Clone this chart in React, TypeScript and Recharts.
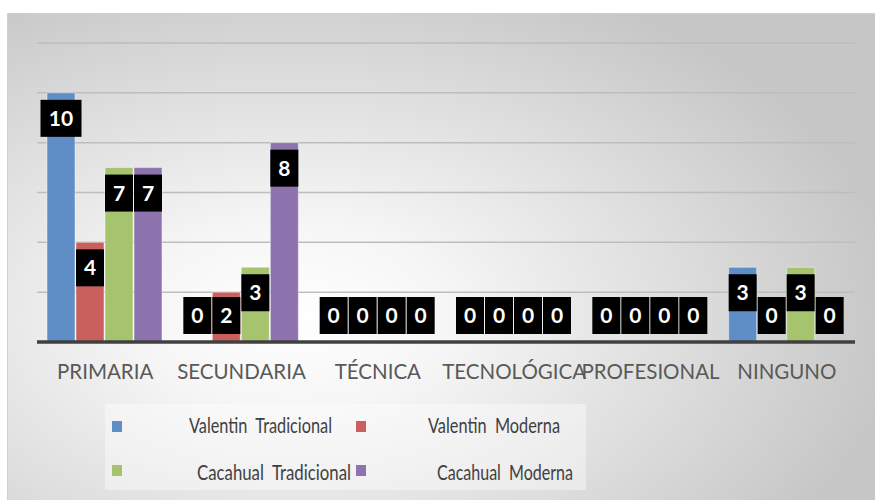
import React from "react";
import { BarChart, Bar, XAxis, YAxis, CartesianGrid, Legend, LabelList } from "recharts";

const categories = ["PRIMARIA", "SECUNDARIA", "TÉCNICA", "TECNOLÓGICA", "PROFESIONAL", "NINGUNO"];
const valentinTradicional = [10, 0, 0, 0, 0, 3];
const valentinModerna = [4, 2, 0, 0, 0, 0];
const cacahualTradicional = [7, 3, 0, 0, 0, 3];
const cacahualModerna = [7, 8, 0, 0, 0, 0];
const yTicks = [0, 2, 4, 6, 8, 10, 12];

const seriesNames = ["Valentin  Tradicional", "Valentin  Moderna", "Cacahual  Tradicional", "Cacahual  Moderna"];
const seriesKeys = ["vt", "vm", "ct", "cm"];
const seriesColors = ["#5f8dc6", "#c9605d", "#a6c36e", "#8e74ae"];

const data = categories.map((c, i) => ({
  name: c,
  vt: valentinTradicional[i],
  vm: valentinModerna[i],
  ct: cacahualTradicional[i],
  cm: cacahualModerna[i],
}));

const FONT = "Lato, 'Open Sans', sans-serif";

// legend layout (relative to legend box)
const legendLayout = [
  { mx: 7, my: 17, tx: 84, tw: 143, ty: 29 },
  { mx: 251, my: 17, tx: 323, tw: 132, ty: 29 },
  { mx: 7, my: 61, tx: 92, tw: 154, ty: 76 },
  { mx: 251, my: 61, tx: 332, tw: 136, ty: 76 },
];

const ValueLabel = (props: any) => {
  const vb = props.viewBox || {};
  const x = props.x ?? vb.x;
  const y = props.y ?? vb.y;
  const width = props.width ?? vb.width;
  const height = props.height ?? vb.height;
  const value = props.value;
  if (x == null || y == null) return null;
  const axisY = y + height;
  const str = String(value);
  const boxH = 37;
  const w = Math.max(width, str.length * 14 + 13);
  const top = Math.min(y + 7, axisY - 8 - boxH);
  const cx = x + width / 2;
  return (
    <g>
      <rect x={cx - w / 2} y={top} width={w} height={boxH} fill="#000" />
      <text
        x={cx}
        y={top + boxH / 2 + 7.5}
        textAnchor="middle"
        fill="#fff"
        fontWeight="bold"
        fontSize={21}
        fontFamily={FONT}
      >
        {str}
      </text>
    </g>
  );
};

const XTick = (props: any) => {
  const { x, payload } = props;
  return (
    <text x={x} y={379} textAnchor="middle" fill="#595959" fontSize={20.5} fontFamily={FONT}>
      {payload.value}
    </text>
  );
};

const LegendContent = () => (
  <svg width={640} height={86} style={{ display: "block", overflow: "visible" }}>
    <rect x={0} y={0} width={481} height={86} fill="rgba(255,255,255,0.4)" />
    {seriesNames.map((n, i) => {
      const l = legendLayout[i];
      return (
        <g key={n}>
          <rect x={l.mx} y={l.my} width={10} height={11} fill={seriesColors[i]} />
          <text
            x={l.tx}
            y={l.ty}
            textLength={l.tw}
            lengthAdjust="spacingAndGlyphs"
            fill="#404040"
            fontSize={21}
            fontFamily={FONT}
            style={{ whiteSpace: "pre" }}
          >
            {n}
          </text>
        </g>
      );
    })}
  </svg>
);

export default function App() {
  return (
    <div style={{ position: "absolute", left: 0, top: 0, width: 875, height: 500, overflow: "hidden" }}>
      <div
        style={{
          position: "absolute",
          left: 7,
          top: 13,
          width: 868,
          height: 487,
          borderTop: "1px solid #d0d0d0",
          borderLeft: "1px solid #d0d0d0",
          background:
            "radial-gradient(ellipse 70% 75% at 33% 62%, #ffffff 0%, #f6f6f6 25%, #e0e0e0 60%, #c6c6c6 100%)",
        }}
      />
      <div style={{ position: "absolute", left: 0, top: 0 }}>
        <BarChart
          width={875}
          height={500}
          data={data}
          margin={{ top: 43, left: 37, right: 20, bottom: 118 }}
          barCategoryGap={10}
          barGap={1}
        >
          <CartesianGrid vertical={false} stroke="#bdbdbd" strokeWidth={1.5} />
          <YAxis hide domain={[0, 12]} ticks={yTicks} />
          <XAxis
            dataKey="name"
            height={40}
            interval={0}
            tickLine={false}
            axisLine={{ stroke: "#404040", strokeWidth: 3.5 }}
            tick={<XTick />}
          />
          <Legend
            layout="horizontal"
            verticalAlign="middle"
            align="center"
            content={<LegendContent />}
            wrapperStyle={{ position: "absolute", left: 105, top: 404, width: 640, height: 86 }}
          />
          {seriesKeys.map((k, i) => (
            <Bar
              key={k}
              dataKey={k}
              name={seriesNames[i]}
              fill={seriesColors[i]}
              stroke="rgba(255,255,255,0.45)"
              strokeWidth={1}
              minPointSize={1}
              isAnimationActive={false}
            >
              <LabelList dataKey={k} content={<ValueLabel />} />
            </Bar>
          ))}
        </BarChart>
      </div>
    </div>
  );
}
